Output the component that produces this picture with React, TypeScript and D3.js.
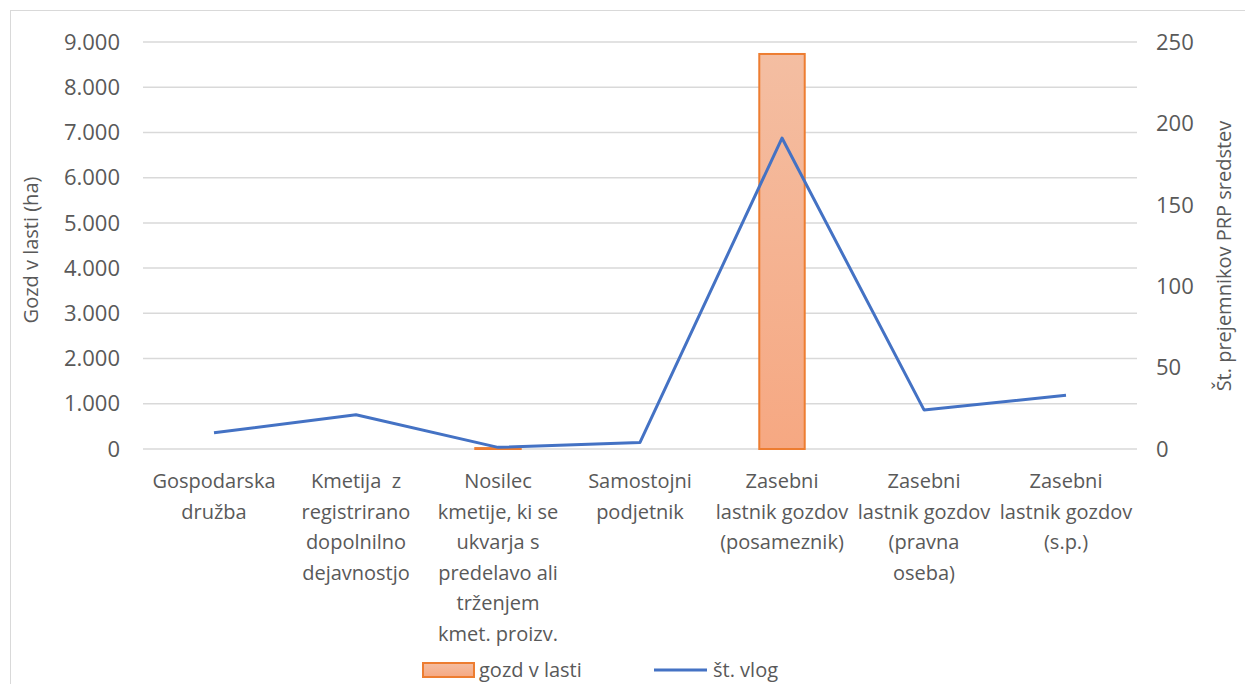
import React from 'react';
import * as d3 from 'd3';

const categories: string[][] = [
  ['Gospodarska', 'družba'],
  ['Kmetija  z', 'registrirano', 'dopolnilno', 'dejavnostjo'],
  ['Nosilec', 'kmetije, ki se', 'ukvarja s', 'predelavo ali', 'trženjem', 'kmet. proizv.'],
  ['Samostojni', 'podjetnik'],
  ['Zasebni', 'lastnik gozdov', '(posameznik)'],
  ['Zasebni', 'lastnik gozdov', '(pravna', 'oseba)'],
  ['Zasebni', 'lastnik gozdov', '(s.p.)'],
];
const gozdValues = [0, 0, 20, 0, 8735, 0, 0];
const vlogValues = [10, 21, 1, 4, 191, 24, 33];
const leftTicks = [0, 1000, 2000, 3000, 4000, 5000, 6000, 7000, 8000, 9000];
const rightTicks = [0, 50, 100, 150, 200, 250];

const W = 1245;
const H = 684;
const FONT = "'Open Sans', sans-serif";
const TEXT = '#595959';

export default function App() {
  const keys = categories.map((_, i) => String(i));
  const x = d3.scaleBand<string>().domain(keys).range([143, 1137]).padding(0);
  const yL = d3.scaleLinear().domain([0, 9000]).range([449, 42]);
  const yR = d3.scaleLinear().domain([0, 250]).range([449, 42]);
  const bw = x.bandwidth();
  const barW = bw * 0.32;
  const cx = (i: number) => (x(String(i)) as number) + bw / 2;
  const fmt = (v: number) => d3.format(',')(v).replace(/,/g, '.');

  const line = d3
    .line<number>()
    .x((_, i) => cx(i))
    .y(d => yR(d));

  return (
    <svg
      width={W}
      height={H}
      style={{ position: 'absolute', left: 0, top: 0, display: 'block', background: '#fff' }}
      fontFamily={FONT}
    >
      <defs>
        <linearGradient id="barFill" x1="0" y1="0" x2="0" y2="1">
          <stop offset="0%" stopColor="#f4bea2" />
          <stop offset="100%" stopColor="#f6a882" />
        </linearGradient>
      </defs>
      <rect x={10.5} y={10.5} width={W + 20} height={H + 20} fill="none" stroke="#d9d9d9" />

      {/* gridlines */}
      {leftTicks.map(t => (
        <line key={t} x1={143} x2={1137} y1={yL(t)} y2={yL(t)} stroke="#d9d9d9" strokeWidth={1.5} />
      ))}

      {/* left axis labels */}
      {leftTicks.map(t => (
        <text key={t} x={120} y={yL(t)} dy="0.35em" textAnchor="end" fontSize={22} fill={TEXT}>
          {fmt(t)}
        </text>
      ))}
      {/* right axis labels */}
      {rightTicks.map(t => (
        <text key={t} x={1156} y={yR(t)} dy="0.35em" textAnchor="start" fontSize={22} fill={TEXT}>
          {t}
        </text>
      ))}

      <text transform="translate(38,250) rotate(-90)" textAnchor="middle" fontSize={20} fill={TEXT}>
        Gozd v lasti (ha)
      </text>
      <text transform="translate(1231,256) rotate(-90)" textAnchor="middle" fontSize={20} fill={TEXT}>
        Št. prejemnikov PRP sredstev
      </text>

      {/* bars */}
      {gozdValues.map((v, i) =>
        v > 0 ? (
          <rect
            key={i}
            x={cx(i) - barW / 2}
            y={yL(v)}
            width={barW}
            height={yL(0) - yL(v)}
            fill="url(#barFill)"
            stroke="#ed7d31"
            strokeWidth={2}
          />
        ) : null
      )}

      {/* line */}
      <path d={line(vlogValues) || ''} fill="none" stroke="#4472c4" strokeWidth={3} strokeLinejoin="round" />

      {/* category labels */}
      {categories.map((lines, i) => (
        <text key={i} x={cx(i)} y={488} textAnchor="middle" fontSize={20} fill={TEXT}>
          {lines.map((l, j) => (
            <tspan key={j} x={cx(i)} dy={j === 0 ? 0 : 30.5} style={{ whiteSpace: 'pre' }}>
              {l}
            </tspan>
          ))}
        </text>
      ))}

      {/* legend */}
      <rect x={423} y={663} width={51} height={14} fill="url(#barFill)" stroke="#ed7d31" strokeWidth={2} />
      <text x={479} y={670} dy="0.35em" fontSize={20} fill={TEXT}>gozd v lasti</text>
      <line x1={654} x2={707} y1={670} y2={670} stroke="#4472c4" strokeWidth={3} />
      <text x={713} y={670} dy="0.35em" fontSize={20} fill={TEXT}>št. vlog</text>
    </svg>
  );
}
